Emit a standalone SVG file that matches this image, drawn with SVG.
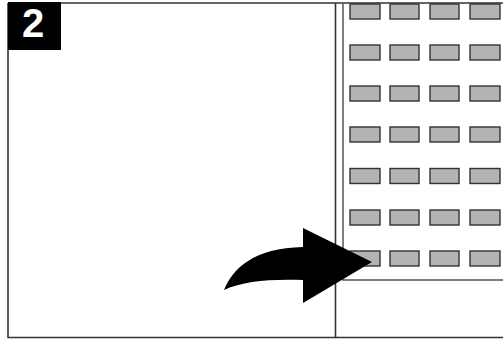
<svg xmlns="http://www.w3.org/2000/svg" width="503" height="341" viewBox="0 0 503 341">
<style>
.frame{fill:none;stroke:#333;stroke-width:1.6}
.card{fill:#fff;stroke:#555;stroke-width:1.5}
.key{fill:#b3b3b3;stroke:#333;stroke-width:1.4}
.num{font-family:"Liberation Sans",Arial,sans-serif;font-weight:bold;font-size:40px;fill:#fff}
</style>
<rect width="503" height="341" fill="#fff"/>
<g id="frame">
<path class="frame" d="M8,3 H505 M8,3 V337.5 H505 M335.5,3 V337.5"/>
</g>
<g id="label">
<rect x="8" y="2" width="53" height="48" fill="#000"/>
<text class="num" x="22" y="37">2</text>
</g>
<g id="card">
<path class="card" d="M343,3 V280 H505"/>
<g id="keys">
<rect class="key" x="350" y="4" width="30" height="15"/>
<rect class="key" x="390" y="4" width="29" height="15"/>
<rect class="key" x="430" y="4" width="29" height="15"/>
<rect class="key" x="470" y="4" width="30" height="15"/>
<rect class="key" x="350" y="45" width="30" height="15"/>
<rect class="key" x="390" y="45" width="29" height="15"/>
<rect class="key" x="430" y="45" width="29" height="15"/>
<rect class="key" x="470" y="45" width="30" height="15"/>
<rect class="key" x="350" y="86" width="30" height="15"/>
<rect class="key" x="390" y="86" width="29" height="15"/>
<rect class="key" x="430" y="86" width="29" height="15"/>
<rect class="key" x="470" y="86" width="30" height="15"/>
<rect class="key" x="350" y="127" width="30" height="15"/>
<rect class="key" x="390" y="127" width="29" height="15"/>
<rect class="key" x="430" y="127" width="29" height="15"/>
<rect class="key" x="470" y="127" width="30" height="15"/>
<rect class="key" x="350" y="168.5" width="30" height="15"/>
<rect class="key" x="390" y="168.5" width="29" height="15"/>
<rect class="key" x="430" y="168.5" width="29" height="15"/>
<rect class="key" x="470" y="168.5" width="30" height="15"/>
<rect class="key" x="350" y="210" width="30" height="15"/>
<rect class="key" x="390" y="210" width="29" height="15"/>
<rect class="key" x="430" y="210" width="29" height="15"/>
<rect class="key" x="470" y="210" width="30" height="15"/>
<rect class="key" x="350" y="251" width="30" height="15"/>
<rect class="key" x="390" y="251" width="29" height="15"/>
<rect class="key" x="430" y="251" width="29" height="15"/>
<rect class="key" x="470" y="251" width="30" height="15"/>
</g>
</g>
<g id="connectors">
<path fill="#000" d="M224,290 C233,268 254,248 303,247 L303,228 L372,262 L303,303 L303,280 C268,279 244,281 224,290 Z"/>
</g>
</svg>
